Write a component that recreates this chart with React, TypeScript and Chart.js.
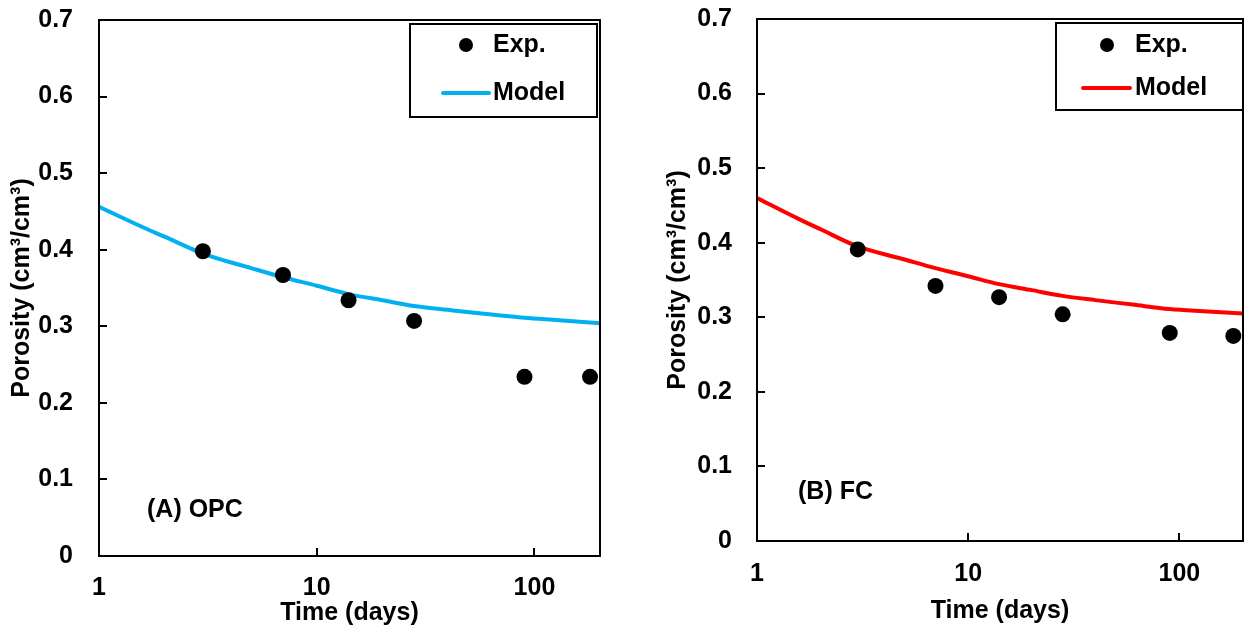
import React, { useEffect, useRef } from "react";
import { Chart, registerables } from "chart.js";

Chart.register(...registerables);

const DAYS_EXP = [3, 7, 14, 28, 90, 180];
const OPC_EXP = [0.398, 0.367, 0.334, 0.307, 0.234, 0.234];
const FC_EXP = [0.391, 0.342, 0.327, 0.304, 0.279, 0.275];

const DAYS_MODEL = [1, 1.6, 2, 3, 5, 7, 10, 14, 20, 28, 40, 60, 90, 130, 200];
const OPC_MODEL = [0.456, 0.429, 0.417, 0.395, 0.376, 0.364, 0.353, 0.342, 0.334, 0.3265, 0.3215, 0.316, 0.311, 0.308, 0.304];
const FC_MODEL = [0.46, 0.431, 0.418, 0.395, 0.3775, 0.366, 0.355, 0.3445, 0.3364, 0.3287, 0.323, 0.317, 0.311, 0.308, 0.305];

const X_TICKS = [1, 10, 100];
const Y_MIN = 0;
const Y_MAX = 0.7;
const Y_STEP = 0.1;

const FONT = "'Liberation Sans', Arial, sans-serif";
const FS = 25;

type PanelCfg = {
  width: number;
  left: number;
  pad: { top: number; right: number };
  yWidth: number;
  xHeight: number;
  yTitlePad: number;
  xTitlePad: number;
  xTickPad: number;
  yTickPad: number;
  exp: number[];
  model: number[];
  color: string;
  tag: string;
  tagPos: [number, number];
  legend: { box: [number, number, number, number]; dot: [number, number]; line: [number, number, number]; textX: number; expY: number };
};

const panels: PanelCfg[] = [
  {
    width: 625,
    left: 0,
    pad: { top: 20, right: 25 },
    yWidth: 99,
    xHeight: 79,
    yTitlePad: 7,
    xTitlePad: 7,
    xTickPad: 17,
    yTickPad: 26,
    exp: OPC_EXP,
    model: OPC_MODEL,
    color: "#00B0F0",
    tag: "(A) OPC",
    tagPos: [147, 510],
    legend: { box: [410, 24, 597, 117], dot: [466, 45], line: [443, 489, 93], textX: 493, expY: 45 },
  },
  {
    width: 605,
    left: 640,
    pad: { top: 19, right: 2 },
    yWidth: 117,
    xHeight: 94,
    yTitlePad: 23,
    xTitlePad: 9,
    xTickPad: 18,
    yTickPad: 25,
    exp: FC_EXP,
    model: FC_MODEL,
    color: "#FF0000",
    tag: "(B) FC",
    tagPos: [158, 492],
    legend: { box: [416, 23, 603, 110], dot: [467, 45], line: [443, 490, 88], textX: 495, expY: 45 },
  },
];

function Panel({ cfg }: { cfg: PanelCfg }) {
  const ref = useRef<HTMLCanvasElement>(null);
  useEffect(() => {
    if (!ref.current) return;
    const decor = {
      id: "decor",
      afterDatasetsDraw(chart: any) {
        const { ctx, chartArea, scales } = chart;
        const { left, right, top, bottom } = chartArea;
        ctx.save();
        ctx.strokeStyle = "#000";
        ctx.lineWidth = 2;
        ctx.strokeRect(left, top, right - left, bottom - top);
        const yS = scales.y;
        for (let v = Y_MIN; v <= Y_MAX + 1e-9; v += Y_STEP) {
          const py = Math.round(yS.getPixelForValue(v));
          ctx.beginPath();
          ctx.moveTo(left, py);
          ctx.lineTo(left + 8, py);
          ctx.stroke();
        }
        const xS = scales.x;
        X_TICKS.forEach((t) => {
          const px = Math.round(xS.getPixelForValue(t));
          ctx.beginPath();
          ctx.moveTo(px, bottom);
          ctx.lineTo(px, bottom - 8);
          ctx.stroke();
        });
        ctx.fillStyle = "#000";
        ctx.font = `bold ${FS}px ${FONT}`;
        ctx.textBaseline = "middle";
        ctx.textAlign = "left";
        ctx.fillText(cfg.tag, cfg.tagPos[0], cfg.tagPos[1]);
        const L = cfg.legend;
        ctx.fillStyle = "#fff";
        ctx.fillRect(L.box[0], L.box[1], L.box[2] - L.box[0], L.box[3] - L.box[1]);
        ctx.strokeStyle = "#000";
        ctx.lineWidth = 2;
        ctx.strokeRect(L.box[0], L.box[1], L.box[2] - L.box[0], L.box[3] - L.box[1]);
        ctx.fillStyle = "#000";
        ctx.beginPath();
        ctx.arc(L.dot[0], L.dot[1], 7, 0, Math.PI * 2);
        ctx.fill();
        ctx.strokeStyle = cfg.color;
        ctx.lineWidth = 4;
        ctx.lineCap = "round";
        ctx.beginPath();
        ctx.moveTo(L.line[0], L.line[2]);
        ctx.lineTo(L.line[1], L.line[2]);
        ctx.stroke();
        ctx.fillStyle = "#000";
        ctx.fillText("Exp.", L.textX, L.expY);
        ctx.fillText("Model", L.textX, L.line[2]);
        ctx.restore();
      },
    };
    const chart = new Chart(ref.current, {
      type: "scatter",
      data: {
        datasets: [
          {
            label: "Model",
            data: DAYS_MODEL.map((d, i) => ({ x: d, y: cfg.model[i] })),
            showLine: true,
            borderColor: cfg.color,
            borderWidth: 4,
            pointRadius: 0,
            cubicInterpolationMode: "monotone",
            order: 2,
          },
          {
            label: "Exp.",
            data: DAYS_EXP.map((d, i) => ({ x: d, y: cfg.exp[i] })),
            showLine: false,
            backgroundColor: "#000",
            borderColor: "#000",
            pointRadius: 8,
            borderWidth: 0,
            clip: false,
            order: 1,
          },
        ],
      },
      options: {
        animation: false,
        responsive: false,
        maintainAspectRatio: false,
        events: [],
        layout: { autoPadding: false, padding: { top: cfg.pad.top, right: cfg.pad.right, left: 0, bottom: 0 } },
        plugins: { legend: { display: false }, tooltip: { enabled: false } },
        scales: {
          x: {
            type: "logarithmic",
            min: 1,
            max: 200,
            afterBuildTicks: (s: any) => {
              s.ticks = X_TICKS.map((v) => ({ value: v }));
            },
            afterFit: (s: any) => {
              s.height = cfg.xHeight;
              s.paddingLeft = 0;
              s.paddingRight = 0;
            },
            grid: { display: true, drawOnChartArea: false, drawTicks: false },
            border: { display: false },
            ticks: {
              color: "#000",
              padding: cfg.xTickPad,
              font: { family: FONT, size: FS, weight: "bold" },
              maxRotation: 0,
              autoSkip: false,
              callback: (v: any) => String(v),
            },
            title: {
              display: true,
              text: "Time (days)",
              color: "#000",
              font: { family: FONT, size: FS, weight: "bold" },
              padding: { top: 0, bottom: cfg.xTitlePad },
            },
          },
          y: {
            min: Y_MIN,
            max: Y_MAX,
            afterFit: (s: any) => {
              s.width = cfg.yWidth;
              s.paddingTop = 0;
              s.paddingBottom = 0;
            },
            grid: { display: true, drawOnChartArea: false, drawTicks: false },
            border: { display: false },
            ticks: {
              stepSize: Y_STEP,
              color: "#000",
              padding: cfg.yTickPad,
              font: { family: FONT, size: FS, weight: "bold" },
              callback: (v: any) => (Math.abs(v) < 1e-9 ? "0" : Number(v).toFixed(1)),
            },
            title: {
              display: true,
              text: "Porosity (cm³/cm³)",
              color: "#000",
              font: { family: FONT, size: FS, weight: "bold" },
              padding: { top: cfg.yTitlePad, bottom: 0 },
            },
          },
        },
      },
      plugins: [decor],
    } as any);
    return () => chart.destroy();
  }, [cfg]);
  return (
    <div style={{ position: "absolute", left: cfg.left, top: 0, width: cfg.width, height: 635 }}>
      <canvas ref={ref} width={cfg.width} height={635} style={{ width: cfg.width, height: 635, display: "block" }} />
    </div>
  );
}

export default function App() {
  return (
    <div style={{ position: "fixed", left: 0, top: 0, width: 1245, height: 635, background: "#fff" }}>
      {panels.map((p, i) => (
        <Panel key={i} cfg={p} />
      ))}
    </div>
  );
}
